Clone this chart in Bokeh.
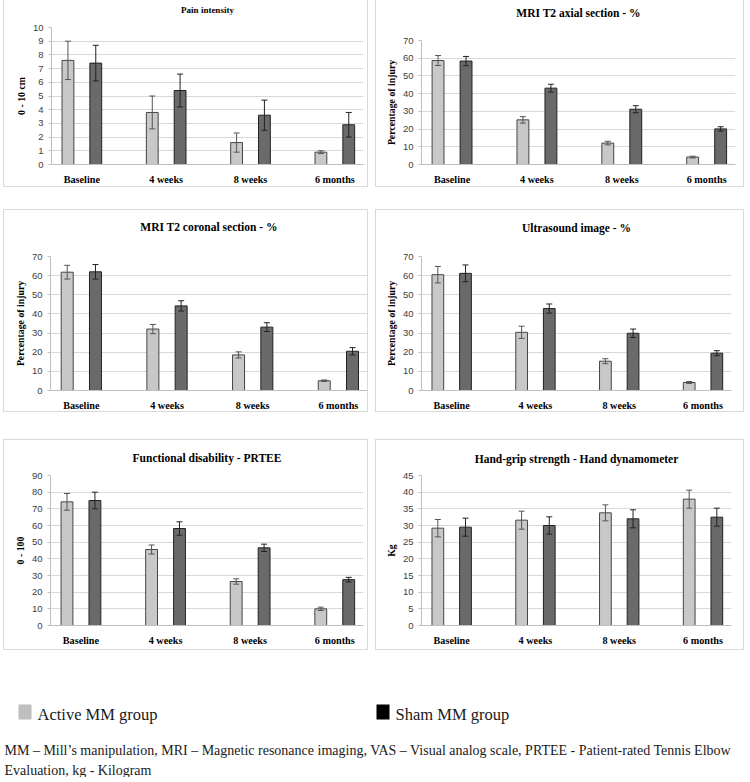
from bokeh.plotting import figure
from bokeh.models import Range1d, FixedTicker, ColumnDataSource, Whisker, TeeHead, Spacer, Title, LinearAxis
from bokeh.layouts import column, row
from bokeh.transform import dodge
from bokeh.embed import file_html
from bokeh.resources import INLINE
from bokeh.core.properties import value

categories = ["Baseline", "4 weeks", "8 weeks", "6 months"]
groups = ["Active MM group", "Sham MM group"]

pain_active = [7.6, 3.8, 1.6, 0.9]
pain_active_sd = [1.4, 1.2, 0.7, 0.1]
pain_sham = [7.4, 5.4, 3.6, 2.9]
pain_sham_sd = [1.3, 1.2, 1.1, 0.9]

axial_active = [58.7, 25.2, 12.1, 4.2]
axial_active_sd = [2.8, 1.8, 1.0, 0.5]
axial_sham = [58.4, 43.1, 31.2, 20.1]
axial_sham_sd = [2.6, 2.2, 2.0, 1.2]

coronal_active = [61.8, 32.1, 18.6, 5.1]
coronal_active_sd = [3.6, 2.4, 1.6, 0.4]
coronal_sham = [62.0, 44.2, 33.1, 20.5]
coronal_sham_sd = [3.8, 2.7, 2.3, 1.9]

us_active = [60.5, 30.4, 15.3, 4.2]
us_active_sd = [4.3, 3.2, 1.3, 0.5]
us_sham = [61.2, 42.8, 29.9, 19.5]
us_sham_sd = [4.4, 2.4, 2.2, 1.3]

prtee_active = [74.2, 45.6, 26.4, 10.0]
prtee_active_sd = [5.0, 2.7, 1.6, 1.0]
prtee_sham = [75.0, 58.2, 46.6, 27.5]
prtee_sham_sd = [5.0, 4.0, 2.2, 1.4]

grip_active = [29.2, 31.6, 33.8, 37.9]
grip_active_sd = [2.6, 2.7, 2.4, 2.7]
grip_sham = [29.5, 30.0, 32.0, 32.5]
grip_sham_sd = [2.7, 2.6, 2.7, 2.7]

caption_lines = [
    "MM \u2013 Mill\u2019s manipulation, MRI \u2013 Magnetic resonance imaging, VAS \u2013 Visual analog scale, PRTEE - Patient-rated Tennis Elbow",
    "Evaluation, kg - Kilogram",
]

ACTIVE_FILL = "#c8c8c8"
ACTIVE_LINE = "#454545"
SHAM_FILL = "#6a6a6a"
SHAM_LINE = "#222222"
SANS = "Liberation Sans"
SERIF = "Times New Roman"

HAS_PADDING = "padding" in Title.properties()


def panel(title, ylabel, ymax, step, act, act_sd, sham, sham_sd,
          w, h, borders, tsize, gap, top_border=True, margin=None):
    bl, br, bt, bb = borders
    xs = list(range(1, len(categories) + 1))
    src = ColumnDataSource(dict(
        x=xs, act=act, sham=sham,
        act_lo=[a - s for a, s in zip(act, act_sd)],
        act_hi=[a + s for a, s in zip(act, act_sd)],
        sham_lo=[a - s for a, s in zip(sham, sham_sd)],
        sham_hi=[a + s for a, s in zip(sham, sham_sd)],
    ))
    styles = {"border": "1px solid #d9d9d9"}
    if not top_border:
        styles["border-top"] = "none"
    kw = {}
    if margin is not None:
        kw["margin"] = margin
    p = figure(width=w, height=h, x_range=Range1d(0.64, 4.34), y_range=Range1d(0, ymax),
               output_backend="svg", toolbar_location=None, title=None,
               min_border_left=bl, min_border_right=br, min_border_top=bt, min_border_bottom=bb,
               styles=styles, **kw)
    p.outline_line_color = None
    p.background_fill_color = "white"
    p.border_fill_color = "white"

    p.xgrid.visible = False
    p.ygrid.grid_line_color = "#d9d9d9"
    p.ygrid.grid_line_width = 1

    p.xaxis.ticker = FixedTicker(ticks=xs)
    p.xaxis.major_label_overrides = {x: c for x, c in zip(xs, categories)}
    p.xaxis.major_label_text_font = SERIF
    p.xaxis.major_label_text_font_style = "bold"
    p.xaxis.major_label_text_font_size = "10.2px"
    p.xaxis.major_label_text_color = "black"
    p.xaxis.major_label_standoff = 3
    p.xaxis.axis_line_color = "#bfbfbf"
    p.xaxis.major_tick_line_color = None
    p.xaxis.minor_tick_line_color = None

    p.yaxis.ticker = FixedTicker(ticks=list(range(0, ymax + 1, step)))
    p.yaxis.major_label_text_font = SANS
    p.yaxis.major_label_text_font_size = "9.5px"
    p.yaxis.major_label_text_color = "#404040"
    p.yaxis.major_label_standoff = 5
    p.yaxis.axis_line_color = "#bfbfbf"
    p.yaxis.major_tick_line_color = "#bfbfbf"
    p.yaxis.major_tick_in = 0
    p.yaxis.major_tick_out = 3
    p.yaxis.minor_tick_line_color = None
    p.yaxis.axis_label = ylabel
    p.yaxis.axis_label_text_font = SERIF
    p.yaxis.axis_label_text_font_style = "bold"
    p.yaxis.axis_label_text_font_size = "9.8px"
    p.yaxis.axis_label_text_color = "black"
    p.yaxis.axis_label_standoff = 3

    p.vbar(x=dodge("x", -0.165), top="act", width=0.14, source=src,
           fill_color=ACTIVE_FILL, line_color=ACTIVE_LINE, line_width=1)
    p.vbar(x=dodge("x", 0.165), top="sham", width=0.14, source=src,
           fill_color=SHAM_FILL, line_color=SHAM_LINE, line_width=1)
    for off, lo, hi, col in ((-0.165, "act_lo", "act_hi", "#555555"),
                             (0.165, "sham_lo", "sham_hi", "#222222")):
        wk = Whisker(source=src, base=dodge("x", off), lower=lo, upper=hi,
                     line_color=col, line_width=1, level="overlay",
                     upper_head=TeeHead(size=6, line_color=col, line_width=1),
                     lower_head=TeeHead(size=6, line_color=col, line_width=1))
        p.add_layout(wk)

    t = Title(text=title, align="center", text_font=SERIF, text_font_style="bold",
              text_font_size=tsize, text_color="black", standoff=0)
    if HAS_PADDING:
        t.padding = dict(left=0, right=0, top=0, bottom=gap)
    else:
        # an empty axis used only as vertical space between frame and title
        sp = LinearAxis(ticker=FixedTicker(ticks=[]), axis_line_color=None,
                        major_tick_line_color=None, minor_tick_line_color=None,
                        major_tick_in=0, major_tick_out=gap, major_label_standoff=0)
        p.add_layout(sp, "above")
    p.add_layout(t, "above")
    return p


p1 = panel("Pain intensity", "0 - 10 cm", 10, 1, pain_active, pain_active_sd, pain_sham, pain_sham_sd,
           365, 200, (47, 6, 40, 23), "9px", 13, top_border=False, margin=(-13, 0, 0, 0))
p2 = panel("MRI T2 axial section - %", "Percentage of injury", 70, 10, axial_active, axial_active_sd,
           axial_sham, axial_sham_sd, 369, 187, (45, 10, 40, 23), "11.5px", 22, top_border=False)
p3 = panel("MRI T2 coronal section - %", "Percentage of injury", 70, 10, coronal_active, coronal_active_sd,
           coronal_sham, coronal_sham_sd, 365, 203, (46, 2, 46, 22), "11.5px", 24)
p4 = panel("Ultrasound image - %", "Percentage of injury", 70, 10, us_active, us_active_sd,
           us_sham, us_sham_sd, 369, 203, (45, 14, 46, 22), "11.5px", 23)
p5 = panel("Functional disability - PRTEE", "0 - 100", 90, 10, prtee_active, prtee_active_sd,
           prtee_sham, prtee_sham_sd, 365, 211, (46, 6, 35, 26), "11.5px", 12)
p6 = panel("Hand-grip strength - Hand dynamometer", "Kg", 45, 5, grip_active, grip_active_sd,
           grip_sham, grip_sham_sd, 369, 211, (45, 14, 35, 26), "11.5px", 11)

# legend + caption
lg = figure(width=750, height=127, x_range=Range1d(0, 750), y_range=Range1d(127, 0),
            output_backend="svg", toolbar_location=None, min_border=0)
lg.axis.visible = False
lg.grid.visible = False
lg.outline_line_color = None
legend_colors = ["#bfbfbf", "#000000"]
legend_x = [18, 376]
lg.quad(left=legend_x, right=[x + 13 for x in legend_x], top=[54, 54], bottom=[69, 69],
        fill_color=legend_colors, line_color=None)
lg.text(x=[x + 19 for x in legend_x], y=[64, 64], text=groups,
        text_font=value(SERIF), text_font_size="16.5px", text_color="#1a1a1a",
        text_baseline="middle", text_align="left")
lg.text(x=[4, 4], y=[100, 120], text=caption_lines,
        text_font=value(SERIF), text_font_size="14px", text_color="#1a1a1a",
        text_baseline="middle", text_align="left")

layout = column(
    row(Spacer(width=3), p1, Spacer(width=7), p2),
    Spacer(height=22),
    row(Spacer(width=3), p3, Spacer(width=7), p4),
    Spacer(height=27),
    row(Spacer(width=3), p5, Spacer(width=7), p6),
    lg,
)

open("out.html", "w").write(file_html(layout, INLINE))
